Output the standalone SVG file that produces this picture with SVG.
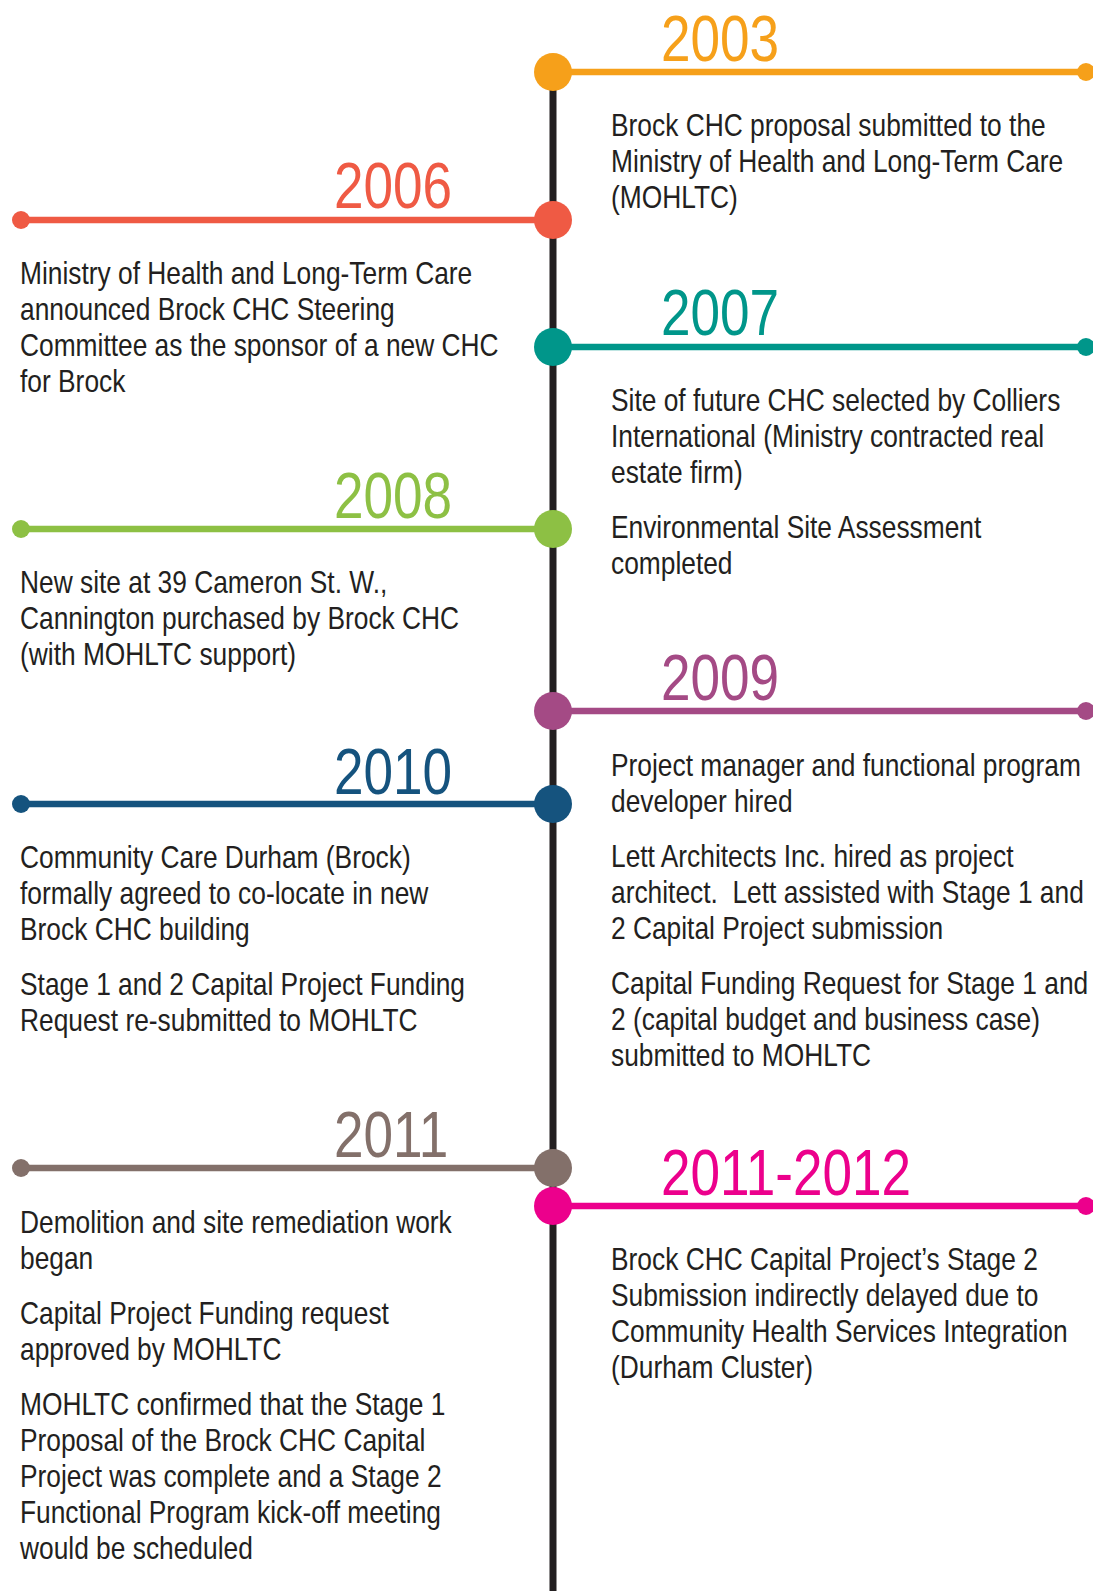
<svg xmlns="http://www.w3.org/2000/svg" width="1093" height="1591" viewBox="0 0 1093 1591">
<style>
.body{font-family:"Liberation Sans",Arial,sans-serif;font-size:31px;fill:#231F20}
.year{font-family:"Liberation Sans",Arial,sans-serif;font-size:64px}
.spine{stroke:#231F20;stroke-width:7}
.arm{stroke-width:6.5;fill:none}
</style>
<rect width="1093" height="1591" fill="#FFFFFF"/>
<g id="connectors">
<line class="spine" x1="553" y1="72" x2="553" y2="1591"/>
</g>
<g id="y2003">
<line class="arm" x1="553" y1="72" x2="1086" y2="72" stroke="#F6A01A"/>
<circle cx="553" cy="72" r="19" fill="#F6A01A"/>
<circle cx="1086" cy="72" r="9" fill="#F6A01A"/>
<text class="year" transform="translate(661,61) scale(0.83,1)" fill="#F6A01A">2003</text>
<text class="body" transform="translate(611,0) scale(0.85,1)"><tspan x="0" y="136">Brock CHC proposal submitted to the</tspan><tspan x="0" y="172">Ministry of Health and Long-Term Care</tspan><tspan x="0" y="208">(MOHLTC)</tspan></text>
</g>
<g id="y2006">
<line class="arm" x1="21" y1="220" x2="553" y2="220" stroke="#EF5A44"/>
<circle cx="553" cy="220" r="19" fill="#EF5A44"/>
<circle cx="21" cy="220" r="9" fill="#EF5A44"/>
<text class="year" transform="translate(334,208) scale(0.83,1)" fill="#EF5A44">2006</text>
<text class="body" transform="translate(20,0) scale(0.85,1)"><tspan x="0" y="284">Ministry of Health and Long-Term Care</tspan><tspan x="0" y="320">announced Brock CHC Steering</tspan><tspan x="0" y="356">Committee as the sponsor of a new CHC</tspan><tspan x="0" y="392">for Brock</tspan></text>
</g>
<g id="y2007">
<line class="arm" x1="553" y1="347" x2="1086" y2="347" stroke="#00968A"/>
<circle cx="553" cy="347" r="19" fill="#00968A"/>
<circle cx="1086" cy="347" r="9" fill="#00968A"/>
<text class="year" transform="translate(661,335) scale(0.83,1)" fill="#00968A">2007</text>
<text class="body" transform="translate(611,0) scale(0.85,1)"><tspan x="0" y="411">Site of future CHC selected by Colliers</tspan><tspan x="0" y="447">International (Ministry contracted real</tspan><tspan x="0" y="483">estate firm)</tspan><tspan x="0" y="538">Environmental Site Assessment</tspan><tspan x="0" y="574">completed</tspan></text>
</g>
<g id="y2008">
<line class="arm" x1="21" y1="529" x2="553" y2="529" stroke="#8DC044"/>
<circle cx="553" cy="529" r="19" fill="#8DC044"/>
<circle cx="21" cy="529" r="9" fill="#8DC044"/>
<text class="year" transform="translate(334,518) scale(0.83,1)" fill="#8DC044">2008</text>
<text class="body" transform="translate(20,0) scale(0.85,1)"><tspan x="0" y="593">New site at 39 Cameron St. W.,</tspan><tspan x="0" y="629">Cannington purchased by Brock CHC</tspan><tspan x="0" y="665">(with MOHLTC support)</tspan></text>
</g>
<g id="y2009">
<line class="arm" x1="553" y1="711" x2="1086" y2="711" stroke="#A44A85"/>
<circle cx="553" cy="711" r="19" fill="#A44A85"/>
<circle cx="1086" cy="711" r="9" fill="#A44A85"/>
<text class="year" transform="translate(661,700) scale(0.83,1)" fill="#A44A85">2009</text>
<text class="body" transform="translate(611,0) scale(0.85,1)"><tspan x="0" y="776">Project manager and functional program</tspan><tspan x="0" y="812">developer hired</tspan><tspan x="0" y="867">Lett Architects Inc. hired as project</tspan><tspan x="0" y="903" xml:space="preserve">architect.  Lett assisted with Stage 1 and</tspan><tspan x="0" y="939">2 Capital Project submission</tspan><tspan x="0" y="994">Capital Funding Request for Stage 1 and</tspan><tspan x="0" y="1030">2 (capital budget and business case)</tspan><tspan x="0" y="1066">submitted to MOHLTC</tspan></text>
</g>
<g id="y2010">
<line class="arm" x1="21" y1="804" x2="553" y2="804" stroke="#15537E"/>
<circle cx="553" cy="804" r="19" fill="#15537E"/>
<circle cx="21" cy="804" r="9" fill="#15537E"/>
<text class="year" transform="translate(334,794) scale(0.83,1)" fill="#15537E">2010</text>
<text class="body" transform="translate(20,0) scale(0.85,1)"><tspan x="0" y="868">Community Care Durham (Brock)</tspan><tspan x="0" y="904">formally agreed to co-locate in new</tspan><tspan x="0" y="940">Brock CHC building</tspan><tspan x="0" y="995">Stage 1 and 2 Capital Project Funding</tspan><tspan x="0" y="1031">Request re-submitted to MOHLTC</tspan></text>
</g>
<g id="y2011">
<line class="arm" x1="21" y1="1168" x2="553" y2="1168" stroke="#83706A"/>
<circle cx="553" cy="1168" r="19" fill="#83706A"/>
<circle cx="21" cy="1168" r="9" fill="#83706A"/>
<text class="year" transform="translate(334,1157) scale(0.83,1)" fill="#83706A">2011</text>
<text class="body" transform="translate(20,0) scale(0.85,1)"><tspan x="0" y="1233">Demolition and site remediation work</tspan><tspan x="0" y="1269">began</tspan><tspan x="0" y="1324">Capital Project Funding request</tspan><tspan x="0" y="1360">approved by MOHLTC</tspan><tspan x="0" y="1415">MOHLTC confirmed that the Stage 1</tspan><tspan x="0" y="1451">Proposal of the Brock CHC Capital</tspan><tspan x="0" y="1487">Project was complete and a Stage 2</tspan><tspan x="0" y="1523">Functional Program kick-off meeting</tspan><tspan x="0" y="1559">would be scheduled</tspan></text>
</g>
<g id="y2011-2012">
<line class="arm" x1="553" y1="1206" x2="1086" y2="1206" stroke="#EC008C"/>
<circle cx="553" cy="1206" r="19" fill="#EC008C"/>
<circle cx="1086" cy="1206" r="9" fill="#EC008C"/>
<text class="year" transform="translate(661,1195) scale(0.83,1)" fill="#EC008C">2011-2012</text>
<text class="body" transform="translate(611,0) scale(0.85,1)"><tspan x="0" y="1270">Brock CHC Capital Project’s Stage 2</tspan><tspan x="0" y="1306">Submission indirectly delayed due to</tspan><tspan x="0" y="1342">Community Health Services Integration</tspan><tspan x="0" y="1378">(Durham Cluster)</tspan></text>
</g>
</svg>
